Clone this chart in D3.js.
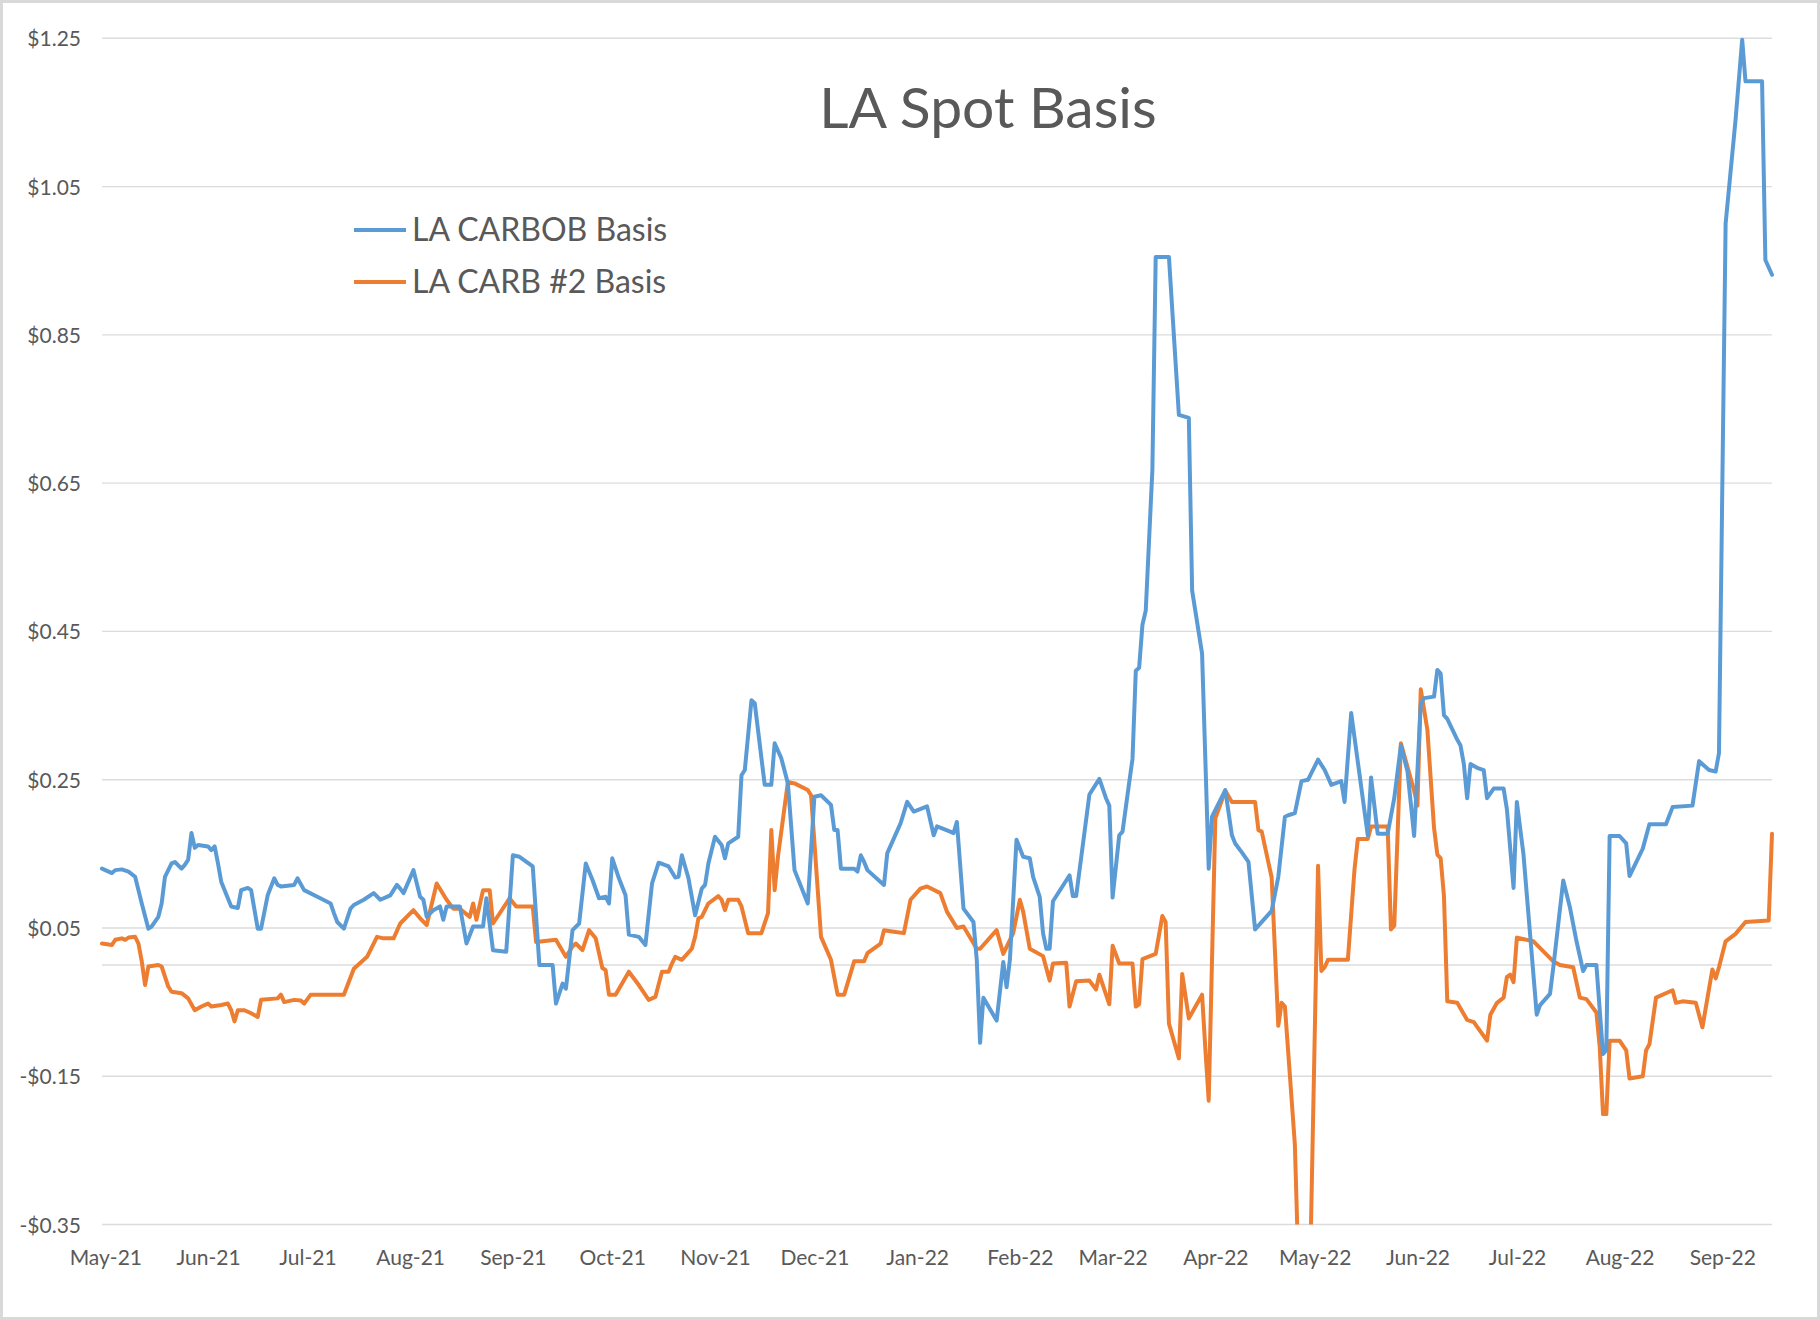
<!DOCTYPE html>
<html><head><meta charset="utf-8">
<script src="https://cdn.jsdelivr.net/npm/d3@7"></script>
<style>
body{margin:0;background:#fff;}
svg{display:block;}
text{font-family:Lato,"Open Sans",sans-serif;fill:#595959;}
</style>
</head><body>
<svg id="chart" width="1820" height="1320"></svg>
<script>
const chartTitle = "LA Spot Basis";
const seriesNames = ["LA CARBOB Basis", "LA CARB #2 Basis"];
const seriesColors = ["#5B9BD5", "#ED7D31"];
const yTickValues = [1.25, 1.05, 0.85, 0.65, 0.45, 0.25, 0.05, -0.15, -0.35];
const xDomain = ["2021-04-30", "2022-09-16"];

const carbobDates = ["2021-04-30","2021-05-03","2021-05-04","2021-05-06","2021-05-08","2021-05-10","2021-05-11","2021-05-12","2021-05-14","2021-05-15","2021-05-17","2021-05-18","2021-05-19","2021-05-21","2021-05-22","2021-05-24","2021-05-25","2021-05-26","2021-05-27","2021-05-28","2021-05-29","2021-06-01","2021-06-02","2021-06-03","2021-06-04","2021-06-05","2021-06-08","2021-06-10","2021-06-11","2021-06-13","2021-06-14","2021-06-16","2021-06-17","2021-06-19","2021-06-21","2021-06-22","2021-06-23","2021-06-27","2021-06-28","2021-06-30","2021-07-04","2021-07-08","2021-07-09","2021-07-10","2021-07-12","2021-07-14","2021-07-15","2021-07-18","2021-07-21","2021-07-23","2021-07-26","2021-07-28","2021-07-29","2021-07-30","2021-08-02","2021-08-04","2021-08-05","2021-08-06","2021-08-08","2021-08-10","2021-08-11","2021-08-12","2021-08-16","2021-08-18","2021-08-20","2021-08-23","2021-08-24","2021-08-26","2021-08-30","2021-09-01","2021-09-03","2021-09-07","2021-09-09","2021-09-13","2021-09-14","2021-09-16","2021-09-17","2021-09-19","2021-09-21","2021-09-23","2021-09-25","2021-09-27","2021-09-29","2021-09-30","2021-10-01","2021-10-03","2021-10-05","2021-10-06","2021-10-09","2021-10-11","2021-10-13","2021-10-15","2021-10-18","2021-10-20","2021-10-21","2021-10-22","2021-10-24","2021-10-26","2021-10-28","2021-10-29","2021-10-30","2021-11-01","2021-11-03","2021-11-04","2021-11-05","2021-11-08","2021-11-09","2021-11-10","2021-11-12","2021-11-13","2021-11-16","2021-11-18","2021-11-19","2021-11-21","2021-11-23","2021-11-25","2021-11-29","2021-12-01","2021-12-03","2021-12-06","2021-12-07","2021-12-08","2021-12-09","2021-12-13","2021-12-14","2021-12-15","2021-12-16","2021-12-17","2021-12-22","2021-12-23","2021-12-27","2021-12-29","2021-12-31","2022-01-04","2022-01-06","2022-01-07","2022-01-11","2022-01-12","2022-01-13","2022-01-15","2022-01-18","2022-01-19","2022-01-20","2022-01-21","2022-01-25","2022-01-27","2022-01-28","2022-01-29","2022-01-31","2022-02-02","2022-02-04","2022-02-05","2022-02-07","2022-02-08","2022-02-09","2022-02-10","2022-02-11","2022-02-15","2022-02-16","2022-02-17","2022-02-18","2022-02-22","2022-02-25","2022-02-27","2022-02-28","2022-03-01","2022-03-03","2022-03-04","2022-03-06","2022-03-07","2022-03-08","2022-03-09","2022-03-10","2022-03-11","2022-03-13","2022-03-14","2022-03-18","2022-03-21","2022-03-24","2022-03-25","2022-03-28","2022-03-30","2022-03-31","2022-04-04","2022-04-06","2022-04-07","2022-04-09","2022-04-11","2022-04-13","2022-04-18","2022-04-20","2022-04-22","2022-04-23","2022-04-25","2022-04-27","2022-04-29","2022-05-02","2022-05-04","2022-05-06","2022-05-09","2022-05-10","2022-05-12","2022-05-17","2022-05-18","2022-05-20","2022-05-23","2022-05-25","2022-05-27","2022-05-29","2022-05-31","2022-06-02","2022-06-03","2022-06-06","2022-06-07","2022-06-08","2022-06-09","2022-06-10","2022-06-13","2022-06-14","2022-06-15","2022-06-16","2022-06-17","2022-06-19","2022-06-21","2022-06-22","2022-06-24","2022-06-27","2022-06-28","2022-06-30","2022-07-01","2022-07-03","2022-07-07","2022-07-08","2022-07-11","2022-07-12","2022-07-15","2022-07-17","2022-07-19","2022-07-21","2022-07-22","2022-07-25","2022-07-27","2022-07-28","2022-07-29","2022-08-01","2022-08-03","2022-08-04","2022-08-08","2022-08-10","2022-08-15","2022-08-17","2022-08-23","2022-08-25","2022-08-28","2022-08-30","2022-08-31","2022-09-02","2022-09-05","2022-09-07","2022-09-08","2022-09-13","2022-09-14","2022-09-16"];
const carbobValues = [0.130,0.124,0.128,0.129,0.126,0.119,0.101,0.083,0.049,0.052,0.065,0.083,0.119,0.137,0.139,0.130,0.135,0.142,0.178,0.158,0.162,0.160,0.155,0.160,0.137,0.112,0.079,0.077,0.101,0.104,0.101,0.049,0.049,0.094,0.117,0.108,0.106,0.108,0.117,0.101,0.092,0.083,0.070,0.058,0.049,0.076,0.081,0.088,0.097,0.088,0.094,0.108,0.103,0.097,0.128,0.092,0.088,0.065,0.074,0.079,0.061,0.079,0.079,0.029,0.052,0.052,0.090,0.020,0.018,0.148,0.146,0.133,0.000,0.000,-0.052,-0.025,-0.032,0.047,0.056,0.137,0.115,0.090,0.092,0.083,0.144,0.117,0.094,0.041,0.038,0.027,0.110,0.138,0.133,0.118,0.119,0.148,0.117,0.067,0.103,0.108,0.137,0.173,0.162,0.144,0.164,0.173,0.256,0.263,0.357,0.353,0.243,0.243,0.299,0.279,0.245,0.128,0.083,0.227,0.229,0.216,0.182,0.182,0.130,0.130,0.126,0.148,0.139,0.128,0.108,0.151,0.191,0.220,0.207,0.214,0.175,0.187,0.180,0.178,0.193,0.076,0.058,0.007,-0.105,-0.044,-0.075,0.004,-0.030,0.007,0.169,0.146,0.144,0.119,0.092,0.043,0.022,0.022,0.086,0.114,0.121,0.093,0.093,0.230,0.251,0.225,0.215,0.091,0.175,0.180,0.246,0.278,0.397,0.401,0.459,0.478,0.668,0.955,0.955,0.742,0.738,0.505,0.420,0.130,0.200,0.236,0.175,0.164,0.152,0.139,0.048,0.073,0.119,0.200,0.202,0.205,0.248,0.250,0.277,0.263,0.243,0.248,0.220,0.340,0.175,0.253,0.177,0.177,0.225,0.296,0.261,0.174,0.352,0.360,0.362,0.398,0.393,0.337,0.332,0.304,0.296,0.271,0.225,0.271,0.266,0.263,0.225,0.238,0.238,0.210,0.104,0.220,0.149,-0.067,-0.054,-0.039,-0.003,0.114,0.078,0.032,-0.008,0.000,0.000,-0.120,-0.115,0.174,0.174,0.164,0.120,0.157,0.190,0.190,0.213,0.215,0.275,0.263,0.261,0.286,1.000,1.140,1.248,1.192,1.192,0.951,0.931];

const carb2Dates = ["2021-04-30","2021-05-03","2021-05-04","2021-05-06","2021-05-07","2021-05-08","2021-05-10","2021-05-11","2021-05-12","2021-05-13","2021-05-14","2021-05-17","2021-05-18","2021-05-20","2021-05-21","2021-05-24","2021-05-26","2021-05-28","2021-05-30","2021-06-01","2021-06-02","2021-06-05","2021-06-07","2021-06-08","2021-06-09","2021-06-10","2021-06-12","2021-06-14","2021-06-16","2021-06-17","2021-06-22","2021-06-23","2021-06-24","2021-06-27","2021-06-29","2021-06-30","2021-07-02","2021-07-12","2021-07-15","2021-07-19","2021-07-22","2021-07-24","2021-07-27","2021-07-29","2021-08-02","2021-08-04","2021-08-06","2021-08-09","2021-08-12","2021-08-14","2021-08-16","2021-08-19","2021-08-20","2021-08-21","2021-08-23","2021-08-25","2021-08-26","2021-08-31","2021-09-02","2021-09-07","2021-09-08","2021-09-14","2021-09-17","2021-09-19","2021-09-20","2021-09-22","2021-09-24","2021-09-26","2021-09-28","2021-09-29","2021-09-30","2021-10-02","2021-10-06","2021-10-09","2021-10-12","2021-10-14","2021-10-16","2021-10-18","2021-10-19","2021-10-20","2021-10-22","2021-10-25","2021-10-26","2021-10-27","2021-10-28","2021-10-30","2021-11-02","2021-11-03","2021-11-04","2021-11-05","2021-11-08","2021-11-09","2021-11-11","2021-11-15","2021-11-17","2021-11-18","2021-11-19","2021-11-20","2021-11-23","2021-11-25","2021-11-29","2021-11-30","2021-12-03","2021-12-06","2021-12-08","2021-12-10","2021-12-13","2021-12-16","2021-12-17","2021-12-21","2021-12-22","2021-12-25","2021-12-28","2021-12-30","2022-01-02","2022-01-04","2022-01-08","2022-01-10","2022-01-13","2022-01-15","2022-01-19","2022-01-20","2022-01-25","2022-01-27","2022-01-30","2022-02-01","2022-02-02","2022-02-04","2022-02-08","2022-02-10","2022-02-11","2022-02-15","2022-02-16","2022-02-18","2022-02-22","2022-02-24","2022-02-25","2022-02-28","2022-03-01","2022-03-03","2022-03-07","2022-03-08","2022-03-09","2022-03-10","2022-03-14","2022-03-16","2022-03-17","2022-03-18","2022-03-21","2022-03-22","2022-03-24","2022-03-28","2022-03-29","2022-03-30","2022-04-01","2022-04-04","2022-04-06","2022-04-13","2022-04-14","2022-04-15","2022-04-18","2022-04-20","2022-04-21","2022-04-22","2022-04-25","2022-04-27","2022-04-29","2022-05-02","2022-05-03","2022-05-04","2022-05-05","2022-05-11","2022-05-13","2022-05-14","2022-05-17","2022-05-18","2022-05-23","2022-05-24","2022-05-25","2022-05-27","2022-05-31","2022-06-01","2022-06-02","2022-06-04","2022-06-06","2022-06-07","2022-06-08","2022-06-09","2022-06-10","2022-06-13","2022-06-16","2022-06-18","2022-06-22","2022-06-23","2022-06-25","2022-06-27","2022-06-28","2022-06-29","2022-06-30","2022-07-01","2022-07-06","2022-07-12","2022-07-14","2022-07-18","2022-07-20","2022-07-22","2022-07-25","2022-07-26","2022-07-27","2022-07-28","2022-07-29","2022-08-01","2022-08-03","2022-08-04","2022-08-08","2022-08-09","2022-08-10","2022-08-12","2022-08-17","2022-08-18","2022-08-20","2022-08-24","2022-08-26","2022-08-29","2022-08-30","2022-08-31","2022-09-02","2022-09-05","2022-09-08","2022-09-15","2022-09-16"];
const carb2Values = [0.029,0.027,0.034,0.036,0.034,0.037,0.038,0.029,0.005,-0.027,-0.002,0.000,-0.002,-0.029,-0.036,-0.038,-0.045,-0.061,-0.056,-0.052,-0.056,-0.054,-0.052,-0.061,-0.076,-0.061,-0.061,-0.065,-0.070,-0.047,-0.045,-0.040,-0.050,-0.047,-0.048,-0.052,-0.040,-0.040,-0.005,0.011,0.038,0.036,0.036,0.056,0.074,0.063,0.054,0.110,0.088,0.076,0.076,0.065,0.083,0.061,0.101,0.101,0.056,0.090,0.079,0.079,0.031,0.034,0.011,0.025,0.029,0.020,0.047,0.036,-0.004,-0.007,-0.040,-0.040,-0.009,-0.027,-0.047,-0.043,-0.009,-0.009,0.002,0.011,0.007,0.022,0.038,0.063,0.065,0.083,0.093,0.088,0.074,0.088,0.088,0.079,0.043,0.043,0.070,0.182,0.101,0.146,0.247,0.245,0.236,0.229,0.038,0.007,-0.040,-0.040,0.005,0.005,0.016,0.029,0.047,0.045,0.043,0.088,0.103,0.106,0.097,0.072,0.050,0.052,0.022,0.022,0.047,0.015,0.043,0.088,0.072,0.022,0.012,-0.021,0.002,0.003,-0.056,-0.022,-0.021,-0.033,-0.013,-0.053,0.026,0.002,0.002,-0.056,-0.053,0.008,0.015,0.066,0.058,-0.079,-0.126,-0.012,-0.072,-0.040,-0.114,-0.183,0.198,0.235,0.220,0.220,0.182,0.180,0.118,-0.082,-0.051,-0.056,-0.242,-0.550,-0.550,0.134,-0.008,-0.003,0.007,0.007,0.129,0.170,0.170,0.187,0.187,0.048,0.053,0.299,0.235,0.215,0.372,0.317,0.185,0.149,0.144,0.093,-0.049,-0.051,-0.074,-0.077,-0.102,-0.067,-0.051,-0.044,-0.016,-0.013,-0.023,0.037,0.032,0.005,0.000,-0.003,-0.044,-0.046,-0.064,-0.110,-0.201,-0.201,-0.102,-0.102,-0.115,-0.153,-0.150,-0.115,-0.107,-0.044,-0.034,-0.051,-0.049,-0.051,-0.084,-0.006,-0.018,-0.003,0.032,0.042,0.058,0.060,0.177];

const parse = d3.timeParse("%Y-%m-%d");
const W = 1820, H = 1320;
const plot = {left: 102, right: 1772, top: 38.3, bottom: 1224.5};

const svg = d3.select("#chart");
svg.append("rect").attr("x",0).attr("y",0).attr("width",W).attr("height",H).attr("fill","#fff");
svg.append("rect").attr("x",1.5).attr("y",1.5).attr("width",W-3).attr("height",H-3)
  .attr("fill","none").attr("stroke","#d9d9d9").attr("stroke-width",3);

const x = d3.scaleTime().domain(xDomain.map(parse)).range([plot.left, plot.right]);
const y = d3.scaleLinear().domain([-0.35, 1.25]).range([plot.bottom, plot.top]);

// gridlines (plus the zero line of the horizontal axis)
svg.append("g").selectAll("line").data(yTickValues.concat([0])).join("line")
  .attr("x1", plot.left).attr("x2", plot.right)
  .attr("y1", d => y(d)).attr("y2", d => y(d))
  .attr("stroke", "#dcdcdc").attr("stroke-width", 1.4);

const fmt = v => (v < 0 ? "-$" : "$") + Math.abs(v).toFixed(2);

// y axis labels
const yAxis = d3.axisLeft(y).tickValues(yTickValues).tickFormat(fmt).tickSize(0).tickPadding(0);
const gy = svg.append("g").attr("transform", `translate(${81},0)`).call(yAxis);
gy.select(".domain").remove();
gy.selectAll("text").attr("font-size", 21).attr("fill", "#595959")
  .style("font-family", "Lato, 'Open Sans', sans-serif").attr("dy", "0.36em");

// x axis labels
const monthTicks = d3.timeMonth.range(parse("2021-05-01"), d3.timeDay.offset(parse(xDomain[1]), 1));
const xAxis = d3.axisBottom(x).tickValues(monthTicks).tickFormat(d3.timeFormat("%b-%y")).tickSize(0).tickPadding(0);
const gx = svg.append("g").attr("transform", `translate(0,${1265})`).call(xAxis);
gx.select(".domain").remove();
gx.selectAll("text").attr("font-size", 21).attr("fill", "#595959")
  .style("font-family", "Lato, 'Open Sans', sans-serif").attr("dy", 0);

// clip
svg.append("clipPath").attr("id","plotclip").append("rect")
  .attr("x", plot.left - 5).attr("y", 0).attr("width", plot.right - plot.left + 10).attr("height", plot.bottom);

const line = d3.line().x(d => x(d.date)).y(d => y(d.value));
const series = [
  carbobDates.map((d,i) => ({date: parse(d), value: carbobValues[i]})),
  carb2Dates.map((d,i) => ({date: parse(d), value: carb2Values[i]}))
];
const gl = svg.append("g").attr("clip-path","url(#plotclip)");
[1, 0].forEach(i => {
  gl.append("path").datum(series[i]).attr("d", line)
    .attr("fill","none").attr("stroke", seriesColors[i]).attr("stroke-width", 4)
    .attr("stroke-linejoin","round").attr("stroke-linecap","round");
});

// title
svg.append("text").attr("x", 988).attr("y", 128).attr("text-anchor","middle")
  .attr("font-size", 57).attr("fill","#595959").text(chartTitle);

// legend
const legendY = [230, 282];
seriesNames.forEach((name, i) => {
  svg.append("line").attr("x1", 354).attr("x2", 406).attr("y1", legendY[i]).attr("y2", legendY[i])
    .attr("stroke", seriesColors[i]).attr("stroke-width", 4);
  svg.append("text").attr("x", 412).attr("y", legendY[i] + 11).attr("font-size", 32)
    .attr("fill","#595959").text(name);
});
</script>
</body></html>
